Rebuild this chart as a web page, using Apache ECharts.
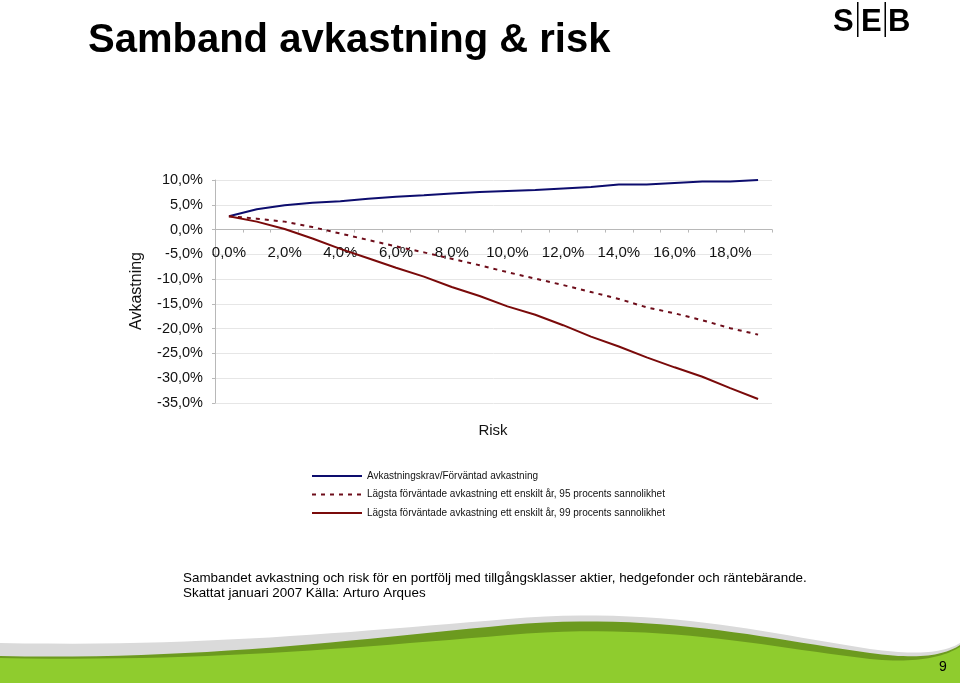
<!DOCTYPE html>
<html><head><meta charset="utf-8">
<script src="https://cdn.jsdelivr.net/npm/echarts@6/dist/echarts.min.js"></script>
<style>html,body{margin:0;padding:0;background:#fff}#c{width:960px;height:683px}</style>
</head><body><div id="c"></div>
<script>
// ---- data ----
const categories = ['0,0%','1,0%','2,0%','3,0%','4,0%','5,0%','6,0%','7,0%','8,0%','9,0%','10,0%','11,0%','12,0%','13,0%','14,0%','15,0%','16,0%','17,0%','18,0%','19,0%'];
const seriesNames = [
  'Avkastningskrav/Förväntad avkastning',
  'Lägsta förväntade avkastning ett enskilt år, 95 procents sannolikhet',
  'Lägsta förväntade avkastning ett enskilt år, 99 procents sannolikhet'
];
const expectedReturn = [2.7, 4.1, 4.9, 5.4, 5.7, 6.2, 6.6, 6.9, 7.3, 7.6, 7.8, 8.0, 8.3, 8.6, 9.1, 9.1, 9.4, 9.7, 9.7, 10.0];
const lower95 = [2.7, 2.2, 1.6, 0.5, -0.8, -2.1, -3.4, -4.6, -5.9, -7.2, -8.6, -9.9, -11.2, -12.6, -14.0, -15.7, -16.9, -18.3, -19.9, -21.2];
const lower99 = [2.7, 1.6, 0.1, -1.8, -3.9, -5.8, -7.7, -9.5, -11.6, -13.4, -15.5, -17.2, -19.3, -21.6, -23.6, -25.8, -27.8, -29.7, -32.0, -34.2];
const yMin = -35, yMax = 10, yStep = 5;
const titleText = 'Samband avkastning & risk';
const yAxisTitle = 'Avkastning';
const xAxisTitle = 'Risk';
const footnote1 = 'Sambandet avkastning och risk för en portfölj med tillgångsklasser aktier, hedgefonder och räntebärande.';
const footnote2 = 'Skattat januari 2007 Källa: Arturo Arques';
const pageNo = '9';

const fmt = v => v.toFixed(1).replace('.', ',') + '%';
const FONT = 'Liberation Sans, Arial, sans-serif';

// grid geometry
const GRID_TOP = 180, GRID_BOTTOM = 280, CHART_H = 683;
const plotH = CHART_H - GRID_TOP - GRID_BOTTOM;
const zeroOffset = -plotH * (0 - yMin) / (yMax - yMin); // lift category axis to the 0 line

// decorative page-footer wave (not data): sample cubic bezier segments into polygon points
function wave(segs, bottom) {
  const pts = [];
  segs.forEach(s => {
    for (let i = 0; i <= 24; i++) {
      const t = i / 24, u = 1 - t;
      pts.push([
        u*u*u*s[0] + 3*u*u*t*s[2] + 3*u*t*t*s[4] + t*t*t*s[6],
        u*u*u*s[1] + 3*u*u*t*s[3] + 3*u*t*t*s[5] + t*t*t*s[7]
      ]);
    }
  });
  pts.push([960, bottom], [0, bottom]);
  return pts;
}
const waveGray = wave([[0,643, 200,647, 350,632, 508,619],[508,619, 660,606, 760,632, 870,649],[870,649, 920,656, 945,652, 960,643]], 683);
const waveDark = wave([[0,656, 200,660, 350,640, 508,625],[508,625, 660,612, 760,638, 870,653],[870,653, 920,660, 945,655, 960,645]], 683);
const waveGreen = wave([[0,658, 200,662, 350,648, 508,635],[508,635, 660,622, 760,646, 870,659],[870,659, 920,664, 945,656, 960,647]], 683);

const chart = echarts.init(document.getElementById('c'), null, {renderer: 'canvas'});
chart.setOption({
  backgroundColor: '#fff',
  animation: false,
  textStyle: {fontFamily: FONT},
  grid: {left: 215, right: 188, top: GRID_TOP, bottom: GRID_BOTTOM, containLabel: false},
  xAxis: {
    type: 'category', data: categories, boundaryGap: true, position: 'bottom', offset: zeroOffset,
    axisLine: {onZero: false, lineStyle: {color: '#b8b8b8', width: 1}},
    axisTick: {show: true, interval: 0, length: 3, lineStyle: {color: '#b8b8b8'}},
    axisLabel: {interval: 1, color: '#111', fontSize: 15, margin: 16, fontFamily: FONT},
    splitLine: {show: false}
  },
  yAxis: {
    type: 'value', min: yMin, max: yMax, interval: yStep,
    axisLine: {show: true, lineStyle: {color: '#b8b8b8'}},
    axisTick: {show: true, length: 3, inside: false, lineStyle: {color: '#b8b8b8'}},
    axisLabel: {formatter: fmt, color: '#111', fontSize: 14.5, margin: 12, fontFamily: FONT},
    splitLine: {show: true, lineStyle: {color: '#e6e6e6', width: 1}}
  },
  legend: {
    orient: 'vertical', left: 306, top: 466,
    itemWidth: 50, itemHeight: 12, itemGap: 8.5,
    itemStyle: {opacity: 0},
    textStyle: {fontSize: 10, color: '#111', fontFamily: FONT},
    data: seriesNames
  },
  series: [
    {name: seriesNames[0], type: 'line', data: expectedReturn, symbol: 'none',
     lineStyle: {color: '#0d0d6e', width: 2}, itemStyle: {color: '#0d0d6e'}},
    {name: seriesNames[1], type: 'line', data: lower95, symbol: 'none',
     lineStyle: {color: '#6e0d1a', width: 2, type: [4, 5]}, itemStyle: {color: '#6e0d1a'}},
    {name: seriesNames[2], type: 'line', data: lower99, symbol: 'none',
     lineStyle: {color: '#7a0a0a', width: 2}, itemStyle: {color: '#7a0a0a'}}
  ],
  graphic: [
    {type: 'text', x: 88, y: 61, style: {text: titleText, font: 'bold 40px ' + FONT, fill: '#000', verticalAlign: 'bottom'}},
    // SEB logo
    {type: 'text', x: 833, y: 38, style: {text: 'S', font: 'bold 31px ' + FONT, fill: '#000', verticalAlign: 'bottom'}},
    {type: 'rect', shape: {x: 857, y: 2, width: 1.5, height: 35}, style: {fill: '#000'}},
    {type: 'text', x: 861, y: 38, style: {text: 'E', font: 'bold 31px ' + FONT, fill: '#000', verticalAlign: 'bottom'}},
    {type: 'rect', shape: {x: 884.5, y: 2, width: 1.5, height: 35}, style: {fill: '#000'}},
    {type: 'text', x: 888, y: 38, style: {text: 'B', font: 'bold 31px ' + FONT, fill: '#000', verticalAlign: 'bottom'}},
    // axis titles
    {type: 'text', x: 137, y: 291, rotation: Math.PI / 2,
     style: {text: yAxisTitle, font: '16px ' + FONT, fill: '#111', align: 'center', verticalAlign: 'middle'}},
    {type: 'text', x: 493, y: 431,
     style: {text: xAxisTitle, font: '15px ' + FONT, fill: '#111', align: 'center', verticalAlign: 'middle'}},
    // footnotes
    {type: 'text', x: 183, y: 578, style: {text: footnote1, font: '13.4px ' + FONT, fill: '#000', verticalAlign: 'middle'}},
    {type: 'text', x: 183, y: 593, style: {text: footnote2, font: '13.4px ' + FONT, fill: '#000', verticalAlign: 'middle'}},
    // decorative wave
    {type: 'polygon', shape: {points: waveGray}, style: {fill: '#dadada'}, silent: true},
    {type: 'polygon', shape: {points: waveDark}, style: {fill: '#6c9a1f'}, silent: true},
    {type: 'polygon', shape: {points: waveGreen}, style: {fill: '#8fcc2e'}, silent: true},
    {type: 'text', x: 943, y: 667, style: {text: pageNo, font: '14px ' + FONT, fill: '#000', align: 'center', verticalAlign: 'middle'}}
  ]
});
</script></body></html>
